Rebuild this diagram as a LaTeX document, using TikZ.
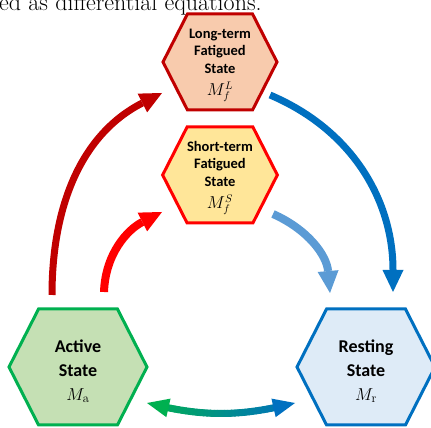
\documentclass[tikz,border=0pt]{standalone}
\usepackage{fontspec}
\usepackage{tikz}
\usetikzlibrary{calc, arrows.meta, shapes.symbols}
\newfontfamily\labelfont{Carlito}

\definecolor{longline}{HTML}{C00000}
\definecolor{longfill}{HTML}{F8CBAD}
\definecolor{shortline}{HTML}{FF0000}
\definecolor{shortfill}{HTML}{FFE699}
\definecolor{actline}{HTML}{00B050}
\definecolor{actfill}{HTML}{C5E0B4}
\definecolor{restline}{HTML}{0070C0}
\definecolor{restfill}{HTML}{DEEBF7}
\definecolor{paleblue}{HTML}{5B9BD5}

\newcommand{\mathline}[1]{{\fontsize{16}{18}\selectfont$#1$}}

\tikzstyle{hexa}     = [signal, signal to=east and west, signal pointer angle=126, line width=3pt, inner sep=0pt, align=center]
\tikzstyle{hexsmall} = [hexa, minimum width=114pt, minimum height=96pt, font=\labelfont\bfseries\fontsize{14.5}{17.5}\selectfont]
\tikzstyle{hexlarge} = [hexa, minimum width=138pt, minimum height=116pt, font=\labelfont\bfseries\fontsize{18}{24}\selectfont]
\tikzstyle{arrow}    = [line width=7pt, -{Triangle[length=22pt, width=21pt, line width=0pt]}]
\tikzstyle{swaptip}  = [line width=7pt, -{Triangle[length=22pt, width=19pt, line width=0pt]}]

\begin{document}
\begin{tikzpicture}[x=1pt, y=1pt, node distance=113pt]
  \useasboundingbox (0,0) rectangle (431,428);
  \clip (0,0) rectangle (431,428);

  \node (caption) [anchor=base west, inner sep=0pt, font=\fontsize{24}{28}\selectfont] at (-1,417) {ed as differential equations.};

  \node (fatL) [hexsmall, draw=longline, fill=longfill] at (220,366) {\rule{0pt}{16pt}Long-term\\Fatigued\\State\\[5pt]\mathline{M_f^L}};
  \node (fatS) [hexsmall, draw=shortline, fill=shortfill, below of=fatL] {\rule{0pt}{16pt}Short-term\\Fatigued\\State\\[5pt]\mathline{M_f^S}};
  \node (act)  [hexlarge, draw=actline, fill=actfill] at (78,61) {\rule{0pt}{21pt}Active\\State\\$M_{\mathrm{a}}$};
  \node (rest) [hexlarge, draw=restline, fill=restfill, right of=act, xshift=175pt] {\rule{0pt}{21pt}Resting\\State\\$M_{\mathrm{r}}$};

  % arrow ends
  \coordinate (upLa)   at ($(act)+(-26,72)$);
  \coordinate (upLb)   at ($(fatL)+(-58,-31)$);
  \coordinate (upSa)   at ($(act)+(26,75)$);
  \coordinate (upSb)   at ($(fatS)+(-58,-37)$);
  \coordinate (downLa) at ($(fatL)+(50,-33)$);
  \coordinate (downLb) at ($(rest)+(27,75)$);
  \coordinate (downSa) at ($(fatS)+(53,-39)$);
  \coordinate (downSb) at ($(rest)+(-36,74)$);
  \coordinate (swapA)  at ($(act)+(69,-36)$);
  \coordinate (swapB)  at ($(rest)+(-71,-36)$);

  \draw [arrow, longline]  (upLa) to[out=90, in=207] (upLb);
  \draw [arrow, shortline, line width=8pt] (upSa) to[out=88, in=207] (upSb);
  \draw [arrow, restline]  (downLa) to[out=-23, in=90] (downLb);
  \draw [arrow, paleblue, line width=8pt] (downSa) to[out=-24, in=95] (downSb);

  % green to blue swap arrow
  \foreach \i [evaluate=\i as \t using \i/40] in {0,...,40}
    \path (swapA) to[bend right=14] coordinate[pos=\t] (sw\i) (swapB);
  \foreach \i [evaluate=\i as \j using int(\i+1), evaluate=\i as \c using 100-2.5*\i] in {4,...,35}
    \draw [line width=7pt, line cap=round, actline!\c!restline] (sw\i) -- (sw\j);
  \draw [swaptip, actline]  (sw5) -- (sw0);
  \draw [swaptip, restline] (sw35) -- (sw40);

\end{tikzpicture}
\end{document}
